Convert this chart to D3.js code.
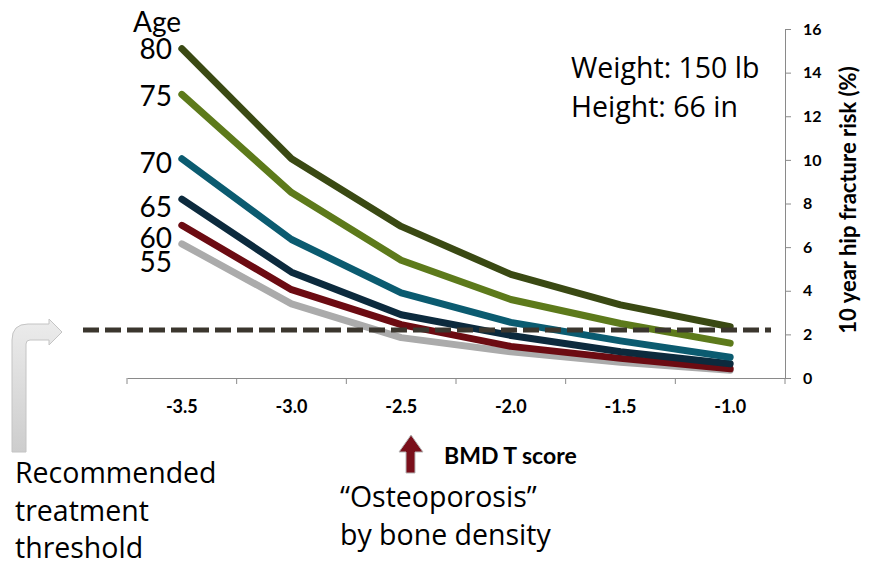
<!DOCTYPE html>
<html>
<head>
<meta charset="utf-8">
<script src="https://cdn.jsdelivr.net/npm/d3@7"></script>
<style>
	body { margin: 0; background: #fff; }
	svg text { font-family: Lato, "Open Sans", sans-serif; fill: #000; }
	svg text.body { font-family: "Open Sans", Lato, sans-serif; font-size: 28.5px; }
	.tick line, .domain { stroke: #8a8a8a; }
</style>
</head>
<body>
<div id="chart"></div>
<script>
// BMD T score categories
const tScores = ["-3.5", "-3.0", "-2.5", "-2.0", "-1.5", "-1.0"];
const ages = ["80", "75", "70", "65", "60", "55"];

// 10 year hip fracture risk (%) by age
const risk80 = [15.1, 10.05, 6.95, 4.75, 3.35, 2.35];
const risk75 = [13.0, 8.5, 5.4, 3.6, 2.5, 1.6];
const risk70 = [10.05, 6.35, 3.9, 2.55, 1.7, 0.95];
const risk65 = [8.2, 4.85, 2.9, 1.95, 1.2, 0.65];
const risk60 = [7.0, 4.05, 2.45, 1.45, 0.9, 0.42];
const risk55 = [6.15, 3.4, 1.85, 1.2, 0.72, 0.36];

const yTicks = [0, 2, 4, 6, 8, 10, 12, 14, 16];
const threshold = 2.2;

const colors = ["#3a4913", "#5d7a1b", "#0b5b70", "#0c2a3d", "#6c0b12", "#ababab"];

let series = [risk80, risk75, risk70, risk65, risk60, risk55].map((v, i) => ({
	age: ages[i],
	color: colors[i],
	values: v.map((r, j) => ({t: tScores[j], value: r}))
}));

let width = 870, height = 565;

let svg = d3.select("#chart")
	.append("svg")
	.attr("width", width)
	.attr("height", height);

// scales
let x = d3.scaleBand().domain(tScores).range([127, 785]);
let y = d3.scaleLinear().domain([0, 16]).range([378, 29]);

// bottom axis: labels under band centres, ticks on band edges
svg.append("g")
	.attr("class", "xAxis")
	.attr("transform", "translate(0,378)")
	.call(d3.axisBottom(x).tickSize(0).tickPadding(22))
	.call(g => g.selectAll("text")
		.style("font-size", "18px")
		.style("font-weight", "bold"));

let edges = x.domain().map(d => x(d)).concat([x.range()[1]]);
svg.select(".xAxis").selectAll(".edge")
	.data(edges)
	.enter().append("line")
	.attr("class", "edge")
	.attr("x1", d => d).attr("x2", d => d)
	.attr("y1", 0).attr("y2", 6)
	.attr("stroke", "#8a8a8a");

// right axis
svg.append("g")
	.attr("class", "yAxis")
	.attr("transform", "translate(785,0)")
	.call(d3.axisRight(y).tickValues(yTicks).tickSizeOuter(0).tickSize(6).tickPadding(12))
	.call(g => g.selectAll("text")
		.style("font-size", "16px")
		.style("font-weight", "bold"));

svg.append("text")
	.attr("transform", "translate(856,200) rotate(-90)")
	.attr("text-anchor", "middle")
	.style("font-size", "22px")
	.style("font-weight", "bold")
	.text("10 year hip fracture risk (%)");

// lines, youngest drawn first
let line = d3.line()
	.x(d => x(d.t) + x.bandwidth() / 2)
	.y(d => y(d.value));

svg.selectAll(".risk")
	.data(series.slice().reverse())
	.enter().append("path")
	.attr("class", "risk")
	.attr("fill", "none")
	.attr("stroke", d => d.color)
	.attr("stroke-width", 7)
	.attr("stroke-linecap", "round")
	.attr("stroke-linejoin", "round")
	.attr("d", d => line(d.values));

// treatment threshold
svg.append("line")
	.attr("x1", 83).attr("x2", 771)
	.attr("y1", y(threshold)).attr("y2", y(threshold))
	.attr("stroke", "#3b362e")
	.attr("stroke-width", 5)
	.attr("stroke-dasharray", "16,6");

// age labels as one text block (heading plus one line per series)
const ageLabelDy = [10, 12, 14, 18, 23, 28];
let ageText = svg.append("text")
	.attr("class", "ageLabels")
	.style("font-size", "28px");
ageText.append("tspan")
	.attr("x", 133).attr("y", 32)
	.text("Age");
ageText.selectAll(".ageLabel")
	.data(series)
	.enter().append("tspan")
	.attr("class", "ageLabel")
	.attr("x", 172)
	.attr("y", (d, i) => y(d.values[0].value) + ageLabelDy[i])
	.attr("text-anchor", "end")
	.text(d => d.age);

// patient info
svg.append("text").attr("class", "body").attr("x", 571).attr("y", 78).text("Weight: 150 lb");
svg.append("text").attr("class", "body").attr("x", 571).attr("y", 117).text("Height: 66 in");

// bent gray arrow toward threshold
let grad = svg.append("defs").append("linearGradient")
	.attr("id", "arrow-gradient")
	.attr("x1", 0).attr("y1", 0).attr("x2", 0).attr("y2", 1);
grad.append("stop").attr("offset", "0%").attr("stop-color", "#ececec");
grad.append("stop").attr("offset", "100%").attr("stop-color", "#cdcdcd");

svg.append("path")
	.attr("d", "M12,452 L12,340 Q12,324 28,324 L49,324 L49,319 L62,332 L49,345 L49,340 L30,340 Q26,340 26,344 L26,452 Z")
	.attr("fill", "url(#arrow-gradient)")
	.attr("stroke", "#c4c4c4")
	.attr("stroke-width", 1);

svg.selectAll(".note")
	.data(["Recommended", "treatment", "threshold"])
	.enter().append("text")
	.attr("class", "note body")
	.attr("x", 15)
	.attr("y", (d, i) => 483 + i * 37.5)
	.text(d => d);

// red arrow at T score -2.5
svg.append("path")
	.attr("d", "M406,473 L406,452 L399,452 L411,435 L423,452 L415,452 L415,473 Z")
	.attr("fill", "#7a0f1a")
	.attr("stroke", "#b5b5b5")
	.attr("stroke-width", 1);

svg.append("text")
	.attr("x", 444).attr("y", 464)
	.style("font-size", "23px")
	.style("font-weight", "bold")
	.text("BMD T score");

svg.append("text").attr("class", "body").attr("x", 340).attr("y", 507).text("\u201COsteoporosis\u201D");
svg.append("text").attr("class", "body").attr("x", 340).attr("y", 545).text("by bone density");
</script>
</body>
</html>
